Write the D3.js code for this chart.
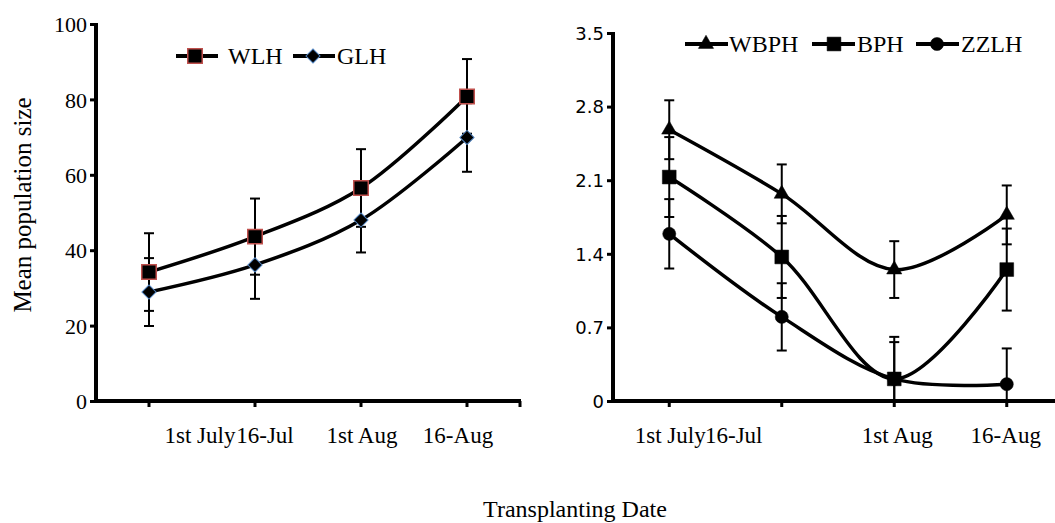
<!DOCTYPE html>
<html><head><meta charset="utf-8">
<script src="https://cdn.jsdelivr.net/npm/d3@7"></script>
<style>
html,body{margin:0;padding:0;background:#fff;}
svg{display:block;}
</style>
</head><body>
<svg id="chart" width="1055" height="523"></svg>
<script>
// ---- data ----
const categories = ["1st July", "16-Jul", "1st Aug", "16-Aug"];
const leftTicks = [0, 20, 40, 60, 80, 100];
const rightTicks = [0, 0.7, 1.4, 2.1, 2.8, 3.5];
const wlh = [34.2, 43.6, 56.5, 80.8];
const wlhErr = [10.3, 10.1, 10.3, 9.9];
const glh = [28.9, 36.1, 48.0, 69.9];
const glhErr = [9.0, 9.0, 8.6, 9.1];
const wbph = [2.58, 1.97, 1.25, 1.77];
const wbphErr = [0.28, 0.28, 0.27, 0.28];
const bph = [2.13, 1.37, 0.21, 1.25];
const bphErr = [0.38, 0.39, 0.40, 0.39];
const zzlh = [1.59, 0.80, 0.21, 0.16];
const zzlhErr = [0.33, 0.32, 0.35, 0.34];
const yTitle = "Mean population size";
const xTitle = "Transplanting Date";

// ---- layout ----
const svg = d3.select("#chart");
const serif = "'Liberation Serif','Times New Roman',serif";
const sans = "'DejaVu Sans',sans-serif";

const panels = [
  {
    x: d3.scaleBand().domain(categories).range([96, 520]),
    y: d3.scaleLinear().domain([0, 100]).range([401, 24]),
    ticks: leftTicks, tickFont: serif, tickSize: 22, axisEnd: 521,
    labelDx: [51, 10, 1, -9], fmt: d => d,
    series: [
      {name: "WLH", v: wlh, e: wlhErr, sym: d3.symbolSquare, size: 210, rot: 0, fill: "#000", stroke: "#c0504d", sw: 1.5},
      {name: "GLH", v: glh, e: glhErr, sym: d3.symbolSquare, size: 100, rot: 45, fill: "#000", stroke: "#4f81bd", sw: 1}
    ],
    legend: {y: 56, items: [{lx: 176, mx: 195, tx: 228}, {lx: 293, mx: 313, tx: 337}], len: 42}
  },
  {
    x: d3.scaleBand().domain(categories).range([613, 1063]),
    y: d3.scaleLinear().domain([0, 3.5]).range([401, 33]),
    ticks: rightTicks, tickFont: sans, tickSize: 18, axisEnd: 1056,
    labelDx: [1, -48, 3, -1], fmt: d => d3.format(".1f")(d).replace(/^0\.0$/, "0"),
    series: [
      {name: "WBPH", v: wbph, e: wbphErr, sym: d3.symbolTriangle, size: 100, rot: 0, fill: "#000", stroke: "#000", sw: 0.5},
      {name: "BPH", v: bph, e: bphErr, sym: d3.symbolSquare, size: 190, rot: 0, fill: "#000", stroke: "#000", sw: 0.5},
      {name: "ZZLH", v: zzlh, e: zzlhErr, sym: d3.symbolCircle, size: 135, rot: 0, fill: "#000", stroke: "#000", sw: 0.5}
    ],
    legend: {y: 44, items: [{lx: 685, mx: 706, tx: 729}, {lx: 812, mx: 834, tx: 857}, {lx: 916, mx: 937, tx: 961}], len: 43}
  }
];

panels.forEach(p => {
  const g = svg.append("g");
  const x0 = p.x.range()[0];
  const y0 = p.y(0);
  const cx = c => p.x(c) + p.x.bandwidth() / 2;

  // y axis
  const yAxis = g.append("g").attr("transform", `translate(${x0},0)`)
    .call(d3.axisLeft(p.y).tickValues(p.ticks).tickSize(6).tickPadding(3).tickFormat(p.fmt));
  yAxis.select(".domain").attr("stroke", "#000").attr("stroke-width", 4)
    .attr("d", `M0,${p.y.range()[1] - 1}V${y0 + 2}`);
  yAxis.selectAll(".tick line").attr("stroke", "#000").attr("stroke-width", 3);
  yAxis.selectAll(".tick text").attr("font-family", p.tickFont).attr("font-size", p.tickSize)
    .attr("fill", "#000").attr("dy", "0.35em");

  // x axis
  const xAxis = g.append("g").attr("transform", `translate(0,${y0})`)
    .call(d3.axisBottom(p.x).tickSize(0).tickPadding(30));
  xAxis.select(".domain").attr("stroke", "#000").attr("stroke-width", 4)
    .attr("d", `M${x0 - 2},0H${p.axisEnd}`);
  xAxis.selectAll(".tick").append("line").attr("y1", 0).attr("y2", 6)
    .attr("stroke", "#000").attr("stroke-width", 3);
  xAxis.selectAll(".tick text").attr("font-family", serif).attr("font-size", 23)
    .attr("fill", "#000").attr("dy", "0.5em")
    .attr("dx", (d, i) => p.labelDx[i]);
  if (p.axisEnd < 1055) {
    xAxis.append("line").attr("x1", p.axisEnd - 1).attr("x2", p.axisEnd - 1)
      .attr("y1", 0).attr("y2", 6).attr("stroke", "#000").attr("stroke-width", 3);
  }

  const line = d3.line().curve(d3.curveCatmullRom.alpha(0.5))
    .x((d, i) => cx(categories[i])).y(d => p.y(d));

  // lines
  p.series.forEach(s => {
    g.append("path").datum(s.v).attr("d", line).attr("fill", "none")
      .attr("stroke", "#000").attr("stroke-width", 3.5);
  });
  // error bars
  p.series.forEach(s => {
    const eg = g.append("g");
    s.v.forEach((v, i) => {
      const X = cx(categories[i]);
      const hi = p.y(v + s.e[i]);
      const lo = p.y(Math.max(0, v - s.e[i]));
      eg.append("line").attr("x1", X).attr("x2", X).attr("y1", hi).attr("y2", lo)
        .attr("stroke", "#000").attr("stroke-width", 2);
      eg.append("line").attr("x1", X - 5).attr("x2", X + 5).attr("y1", hi).attr("y2", hi)
        .attr("stroke", "#000").attr("stroke-width", 2);
      if (v - s.e[i] > 0) {
        eg.append("line").attr("x1", X - 5).attr("x2", X + 5).attr("y1", lo).attr("y2", lo)
          .attr("stroke", "#000").attr("stroke-width", 2);
      }
    });
  });
  // markers
  p.series.forEach(s => {
    g.append("g").selectAll("path").data(s.v).join("path")
      .attr("transform", (d, i) => `translate(${cx(categories[i])},${p.y(d)}) rotate(${s.rot})`)
      .attr("d", d3.symbol().type(s.sym).size(s.size))
      .attr("fill", s.fill).attr("stroke", s.stroke).attr("stroke-width", s.sw);
  });
  // legend
  p.series.forEach((s, k) => {
    const it = p.legend.items[k];
    const ly = p.legend.y;
    g.append("line").attr("x1", it.lx).attr("x2", it.lx + p.legend.len)
      .attr("y1", ly).attr("y2", ly).attr("stroke", "#000").attr("stroke-width", 4);
    g.append("path").attr("transform", `translate(${it.mx},${ly}) rotate(${s.rot})`)
      .attr("d", d3.symbol().type(s.sym).size(s.size))
      .attr("fill", s.fill).attr("stroke", s.stroke).attr("stroke-width", s.sw);
    g.append("text").attr("x", it.tx).attr("y", ly).attr("dy", "0.35em")
      .attr("font-family", serif).attr("font-size", 24).attr("fill", "#000").text(s.name);
  });
});

// titles
svg.append("text").attr("transform", "translate(22,205) rotate(-90)")
  .attr("text-anchor", "middle").attr("dy", "0.35em")
  .attr("font-family", serif).attr("font-size", 25).attr("fill", "#000").text(yTitle);
svg.append("text").attr("x", 575).attr("y", 517).attr("text-anchor", "middle")
  .attr("font-family", serif).attr("font-size", 24).attr("fill", "#000").text(xTitle);
</script>
</body></html>
